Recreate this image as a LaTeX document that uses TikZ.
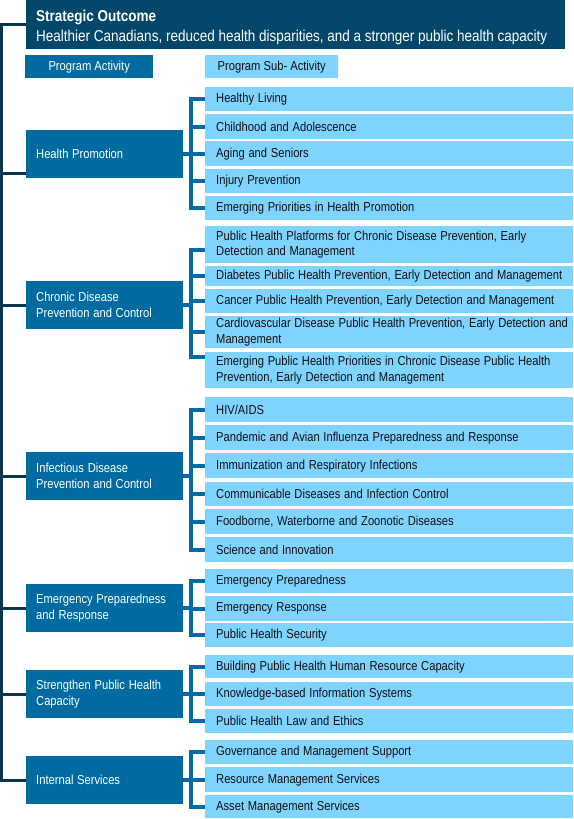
\documentclass[tikz,border=0pt]{standalone}
\usepackage{fontspec}
\usepackage{graphicx}
\setmainfont{Liberation Sans}
\definecolor{topc}{HTML}{03486B}
\definecolor{actc}{HTML}{006BA0}
\definecolor{subc}{HTML}{7FD3FF}
\definecolor{brc}{HTML}{006BA6}
\definecolor{trunkc}{HTML}{0A3550}
\definecolor{txtc}{HTML}{111111}
\newcommand\nx[1]{\scalebox{0.86}[1]{#1}}
\newcommand\sbx[4]{\node[sub, minimum height=#3pt] (#1) at (205,#2) {#4};}
\begin{document}
\begin{tikzpicture}[x=1pt,y=-1pt,
  sub/.style={fill=subc, anchor=north west, minimum width=368pt, text width=346pt,
    inner xsep=11pt, inner ysep=0pt, align=left, text=txtc,
    font=\fontsize{13pt}{15.5pt}\selectfont},
  act/.style={fill=actc, anchor=north west, minimum width=157pt, text width=137pt,
    minimum height=48pt, inner xsep=10pt, inner ysep=0pt, align=left, text=white,
    font=\fontsize{13pt}{16pt}\selectfont},
  hdr/.style={anchor=north west, minimum height=23pt, inner sep=0pt, align=center,
    font=\fontsize{13pt}{15pt}\selectfont},
  br/.style={draw=brc, line width=4pt},
  trunk/.style={draw=trunkc, line width=3pt}]
\useasboundingbox (0,0) rectangle (573,819);

% strategic outcome
\node[fill=topc, anchor=north west, minimum width=539pt, minimum height=49pt, inner sep=0pt] (so) at (26,0) {};
\node[anchor=base west, inner sep=0pt, text=white, font=\fontsize{15.7pt}{18pt}\selectfont\bfseries] (sot) at (36,21) {\nx{Strategic Outcome}};
\node[anchor=base west, inner sep=0pt, text=white, font=\fontsize{15.7pt}{18pt}\selectfont] (sos) at (36,41) {\nx{Healthier Canadians, reduced health disparities, and a stronger public health capacity}};

% headers
\node[hdr, fill=actc, text=white, minimum width=128pt] (pa) at (25,55) {\nx{Program Activity}};
\node[hdr, fill=subc, text=txtc, minimum width=133pt] (psa) at (205,55) {\nx{Program Sub- Activity}};

% activities
\node[act] (A1) at (26,130) {\nx{Health Promotion}};
\node[act] (A2) at (26,281) {\nx{Chronic Disease}\\\nx{Prevention and Control}};
\node[act] (A3) at (26,452) {\nx{Infectious Disease}\\\nx{Prevention and Control}};
\node[act] (A4) at (26,584) {\nx{Emergency Preparedness}\\\nx{and Response}};
\node[act] (A5) at (26,670) {\nx{Strengthen Public Health}\\\nx{Capacity}};
\node[act] (A6) at (26,756) {\nx{Internal Services}};

% sub-activities
\sbx{h1}{87}{24}{\nx{Healthy Living}}
\sbx{h2}{114}{25}{\nx{Childhood and Adolescence}}
\sbx{h3}{141}{25}{\nx{Aging and Seniors}}
\sbx{h4}{169}{24}{\nx{Injury Prevention}}
\sbx{h5}{196}{24}{\nx{Emerging Priorities in Health Promotion}}

\sbx{c1}{226}{37}{\nx{Public Health Platforms for Chronic Disease Prevention, Early}\\\nx{Detection and Management}}
\sbx{c2}{266}{20}{\nx{Diabetes Public Health Prevention, Early Detection and Management}}
\sbx{c3}{289}{24}{\nx{Cancer Public Health Prevention, Early Detection and Management}}
\sbx{c4}{316}{32}{\nx{Cardiovascular Disease Public Health Prevention, Early Detection and}\\\nx{Management}}
\sbx{c5}{352}{36}{\nx{Emerging Public Health Priorities in Chronic Disease Public Health}\\\nx{Prevention, Early Detection and Management}}

\sbx{i1}{397}{25}{\nx{HIV/AIDS}}
\sbx{i2}{425}{25}{\nx{Pandemic and Avian Influenza Preparedness and Response}}
\sbx{i3}{453}{25}{\nx{Immunization and Respiratory Infections}}
\sbx{i4}{482}{24}{\nx{Communicable Diseases and Infection Control}}
\sbx{i5}{509}{25}{\nx{Foodborne, Waterborne and Zoonotic Diseases}}
\sbx{i6}{537}{25}{\nx{Science and Innovation}}

\sbx{e1}{569}{24}{\nx{Emergency Preparedness}}
\sbx{e2}{596}{25}{\nx{Emergency Response}}
\sbx{e3}{623}{24}{\nx{Public Health Security}}

\sbx{s1}{655}{23}{\nx{Building Public Health Human Resource Capacity}}
\sbx{s2}{682}{24}{\nx{Knowledge-based Information Systems}}
\sbx{s3}{709}{24}{\nx{Public Health Law and Ethics}}

\sbx{n1}{740}{24}{\nx{Governance and Management Support}}
\sbx{n2}{767}{25}{\nx{Resource Management Services}}
\sbx{n3}{795}{23}{\nx{Asset Management Services}}

% branch connectors
\coordinate (vx) at (190.5,0);
\foreach \a/\f/\l/\m in {A1/h1/h5/{h2,h3,h4}, A3/i1/i6/{i2,i3,i4,i5}, A4/e1/e3/{e2}, A5/s1/s3/{s2}, A6/n1/n3/{n2}}{
  \draw[br] (\a.east) -- (\a.east -| vx);
  \draw[br] (\f.west) -- (\f.west -| vx) -- (\l.west -| vx) -- (\l.west);
  \foreach \n in \m {\draw[br] (\n.west -| vx) -- (\n.west);}
}
\coordinate (c1b) at ([yshift=-5.5pt]c1.west);
\coordinate (c5b) at ([yshift=13pt]c5.west);
\draw[br] (A2.east) -- (A2.east -| vx);
\draw[br] (c1b) -- (c1b -| vx) -- (c5b -| vx) -- (c5b);
\foreach \n in {c2,c3,c4} {\draw[br] (\n.west -| vx) -- (\n.west);}

% trunk
\coordinate (t0) at (1.5,24.5);
\draw[trunk] (so.west |- t0) -- (t0) -- (t0 |- A6.west) -- (A6.west);
\coordinate (a1s) at ([yshift=-19pt]A1.west);
\draw[trunk] (a1s) -- (a1s -| t0);
\foreach \a in {A2,A3,A4,A5} {\draw[trunk] (\a.west) -- (\a.west -| t0);}
\end{tikzpicture}
\end{document}
